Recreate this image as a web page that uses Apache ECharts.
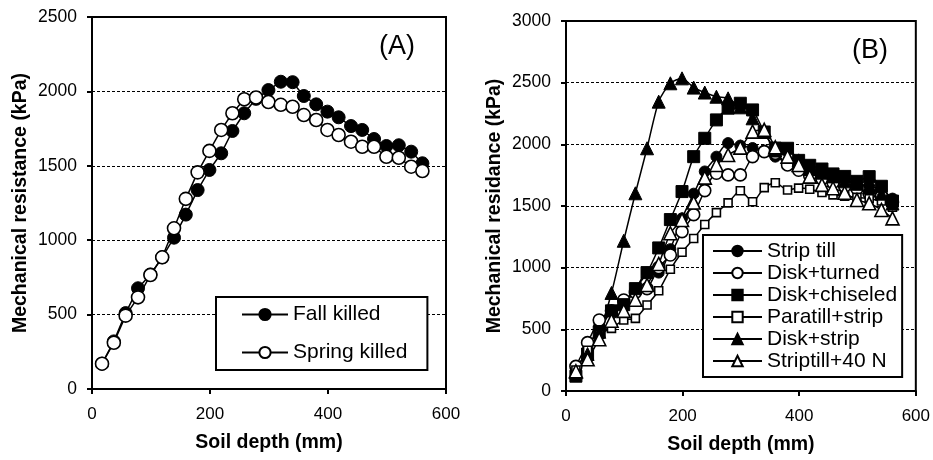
<!DOCTYPE html>
<html><head><meta charset="utf-8">
<script src="https://cdn.jsdelivr.net/npm/echarts@6/dist/echarts.min.js"></script>
<style>html,body{margin:0;padding:0;background:#fff}#c{width:933px;height:460px}</style>
</head><body><div id="c"></div>
<script>
// Panel A
const depthA = [17,37,57,78,99,119,139,159,179,199,219,238,258,278,299,320,340,359,380,399,418,439,458,478,499,520,541,560];
const fallKilled = [170,320,510,677,770,885,1017,1172,1337,1472,1584,1734,1853,1950,2009,2065,2062,1969,1913,1864,1826,1767,1741,1680,1633,1638,1595,1517];
const springKilled = [170,311,493,616,766,885,1080,1278,1456,1600,1741,1853,1947,1959,1929,1910,1897,1841,1808,1741,1707,1662,1628,1628,1561,1554,1494,1465];
// Panel B
const depthB = [17,37,57,78,99,119,139,159,179,199,219,238,258,278,299,320,340,359,380,399,418,439,458,478,499,520,541,560];
const stripTill = [180,330,530,640,700,820,960,960,1150,1400,1600,1780,1900,2010,1990,1970,1950,1900,1850,1820,1790,1750,1720,1700,1680,1660,1630,1560];
const diskTurned = [200,392,576,650,738,800,830,1000,1103,1292,1430,1625,1765,1752,1752,1900,1941,1928,1833,1790,1745,1720,1690,1660,1640,1600,1580,1530];
const diskChiseled = [120,300,480,650,700,830,960,1160,1390,1617,1900,2049,2198,2293,2333,2279,2100,1970,1968,1870,1830,1800,1760,1740,1700,1738,1660,1540];
const paratillStrip = [170,330,460,508,576,589,697,813,987,1125,1236,1350,1446,1525,1624,1535,1649,1689,1630,1645,1636,1610,1590,1580,1570,1560,1540,1490];
const diskStrip = [150,300,480,795,1218,1603,1968,2346,2495,2535,2460,2420,2386,2373,2300,2211,2100,1950,1900,1870,1800,1770,1740,1700,1680,1650,1600,1520];
const striptill40N = [160,257,420,570,650,740,860,1030,1279,1387,1528,1730,1833,1914,1973,2103,2117,1976,1900,1833,1738,1671,1644,1608,1549,1522,1468,1400];
const yTicksA = [0,500,1000,1500,2000,2500];
const yTicksB = [0,500,1000,1500,2000,2500,3000];
const xTicks = [0,200,400,600];

const FONT = 'Liberation Sans, Arial, sans-serif';
const pairs = (xs, ys) => xs.map((x, i) => [x, ys[i]]);
const filled = {color:'#000', borderColor:'#000', borderWidth:1};
const open = {color:'#fff', borderColor:'#000', borderWidth:1.6};
function ser(name, xi, yi, xs, ys, symbol, size, style, smooth) {
  return {name, type:'line', xAxisIndex:xi, yAxisIndex:yi, data:pairs(xs, ys),
    symbol, symbolSize:size, showAllSymbol:true, smooth: smooth,
    lineStyle:{color:'#000', width:1.5}, itemStyle:style, emphasis:{disabled:true}, z: 3};
}
function xAx(gi, ticks) {
  return {type:'value', gridIndex:gi, min:ticks[0], max:ticks[ticks.length-1], interval:ticks[1]-ticks[0],
    name:'Soil depth (mm)', nameLocation:'middle', nameGap:44,
    nameTextStyle:{fontFamily:FONT, fontSize:19.5, fontWeight:'bold', color:'#000'},
    axisLine:{show:true, lineStyle:{color:'#000', width:2}},
    axisTick:{show:true, length:5, lineStyle:{color:'#000', width:2}},
    axisLabel:{fontFamily:FONT, fontSize:17, color:'#000', margin:17, formatter:v => String(v)},
    splitLine:{show:false}};
}
function yAx(gi, ticks, name) {
  return {type:'value', gridIndex:gi, min:ticks[0], max:ticks[ticks.length-1], interval:ticks[1]-ticks[0],
    name:name, nameLocation:'middle', nameGap:61, nameRotate:90,
    nameTextStyle:{fontFamily:FONT, fontSize:19.5, fontWeight:'bold', color:'#000'},
    axisLine:{show:true, lineStyle:{color:'#000', width:2}},
    axisTick:{show:true, length:5, lineStyle:{color:'#000', width:2}},
    axisLabel:{fontFamily:FONT, fontSize:17.5, color:'#000', margin:15, formatter:v => String(v)},
    splitLine:{show:true, lineStyle:{color:'#000', width:1, type:[3,2]}}};
}
const chart = echarts.init(document.getElementById('c'), null, {renderer:'canvas'});
chart.setOption({
  animation:false,
  backgroundColor:'#fff',
  title:[
    {text:'(A)', left:379, top:33, padding:0, textStyle:{fontFamily:FONT, fontSize:27, fontWeight:'normal', color:'#000'}},
    {text:'(B)', left:852, top:37, padding:0, textStyle:{fontFamily:FONT, fontSize:27, fontWeight:'normal', color:'#000'}}
  ],
  grid:[
    {left:92, top:17, width:354, height:372, show:true, borderColor:'#000', borderWidth:2, backgroundColor:'transparent'},
    {left:566, top:21, width:351, height:370, show:true, borderColor:'#000', borderWidth:2, backgroundColor:'transparent'}
  ],
  xAxis:[xAx(0, xTicks), xAx(1, xTicks)],
  yAxis:[yAx(0, yTicksA, 'Mechanical resistance (kPa)'), yAx(1, yTicksB, 'Mechanical residance (kPa)')],
  legend:[
    {data:['Fall killed','Spring killed'], orient:'vertical', left:216, top:297,
     padding:[7,20,7,25], itemGap:17, itemWidth:46, itemHeight:14,
     backgroundColor:'#fff', borderColor:'#000', borderWidth:2, borderRadius:0,
     textStyle:{fontFamily:FONT, fontSize:21, lineHeight:21, color:'#000'}},
    {data:['Strip till','Disk+turned','Disk+chiseled','Paratill+strip','Disk+strip','Striptill+40 N'],
     orient:'vertical', left:703, top:235,
     padding:[5,5,5,9], itemGap:0, itemWidth:49, itemHeight:13,
     backgroundColor:'#fff', borderColor:'#000', borderWidth:2, borderRadius:0,
     textStyle:{fontFamily:FONT, fontSize:21, lineHeight:22, color:'#000'}}
  ],
  series:[
    ser('Fall killed', 0, 0, depthA, fallKilled, 'circle', 13, filled, false),
    ser('Spring killed', 0, 0, depthA, springKilled, 'circle', 13, open, false),
    ser('Strip till', 1, 1, depthB, stripTill, 'circle', 11, filled, 0.25),
    ser('Disk+turned', 1, 1, depthB, diskTurned, 'circle', 12, open, 0.25),
    ser('Disk+chiseled', 1, 1, depthB, diskChiseled, 'rect', 12, filled, 0.25),
    ser('Paratill+strip', 1, 1, depthB, paratillStrip, 'rect', 8, open, 0.25),
    ser('Disk+strip', 1, 1, depthB, diskStrip, 'triangle', 13, filled, 0.25),
    ser('Striptill+40 N', 1, 1, depthB, striptill40N, 'triangle', 13, open, 0.25)
  ]
});
</script></body></html>
